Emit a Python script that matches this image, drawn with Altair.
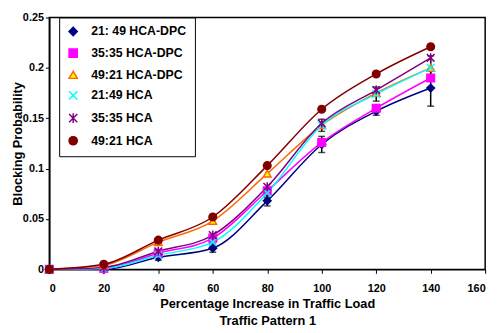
import altair as alt
import pandas as pd

x_vals = [0, 20, 40, 60, 80, 100, 120, 140]
series_names = ["21: 49 HCA-DPC", "35:35 HCA-DPC", "49:21 HCA-DPC",
                "21:49 HCA", "35:35 HCA", "49:21 HCA"]
s_21_49_dpc = [0, 0.000, 0.012, 0.021, 0.068, 0.124, 0.157, 0.180]
s_35_35_dpc = [0, 0.001, 0.016, 0.031, 0.078, 0.126, 0.160, 0.190]
s_49_21_dpc = [0, 0.004, 0.027, 0.048, 0.095, 0.143, 0.175, 0.200]
s_21_49_hca = [0, 0.001, 0.014, 0.027, 0.076, 0.143, 0.174, 0.200]
s_35_35_hca = [0, 0.002, 0.018, 0.034, 0.082, 0.145, 0.178, 0.210]
s_49_21_hca = [0, 0.005, 0.029, 0.052, 0.103, 0.159, 0.194, 0.221]
all_series = [s_21_49_dpc, s_35_35_dpc, s_49_21_dpc, s_21_49_hca, s_35_35_hca, s_49_21_hca]

stroke_colors = ["#000080", "#FF00FF", "#FF6600", "#00FFFF", "#800080", "#800000"]
fill_colors = ["#000080", "#FF00FF", "#FFFF00", "#00FFFF", "#800080", "#800000"]
shapes = ["diamond", "square", "triangle-up",
          "M-1,-1L1,1M-1,1L1,-1",
          "M-1,-1L1,1M-1,1L1,-1M0,-1.2L0,1.2",
          "circle"]

# error bars (half-widths) around two series
err_navy = [0, 0.001, 0.003, 0.004, 0.005, 0.008, 0.004, 0.018]
err_cyan = [0, 0.001, 0.003, 0.004, 0.005, 0.006, 0.007, 0.012]

y_title = "Blocking Probability"

rows = []
for name, vals in zip(series_names, all_series):
    for xv, yv in zip(x_vals, vals):
        rows.append({"x": xv, "y": yv, "series": name})
df = pd.DataFrame(rows)

err_rows = []
for base, err in [(s_21_49_dpc, err_navy), (s_21_49_hca, err_cyan)]:
    for xv, yv, e in zip(x_vals, base, err):
        if e > 0.002:
            err_rows.append({"x": xv, "lo": yv - e, "hi": yv + e})
edf = pd.DataFrame(err_rows)

xscale = alt.Scale(domain=[0, 160], nice=False)
yscale = alt.Scale(domain=[0, 0.25], nice=False)

x_title = ["Percentage Increase in Traffic Load", "Traffic Pattern 1"]
x_enc = alt.X("x:Q", scale=xscale, title=x_title,
              axis=alt.Axis(values=list(range(0, 161, 20)), format="d"))
y_enc = alt.Y("y:Q", scale=yscale, title=y_title,
              axis=alt.Axis(values=[0, 0.05, 0.1, 0.15, 0.2, 0.25], format="~g",
                            titleX=-32, titleY=128,
                            titleAngle=-90, titleAlign="center", titleBaseline="middle"))

sc_stroke = alt.Scale(domain=series_names, range=stroke_colors)
sc_fill = alt.Scale(domain=series_names, range=fill_colors)
sc_shape = alt.Scale(domain=series_names, range=shapes)

lines = alt.Chart(df).mark_line(interpolate="monotone", strokeWidth=1.5).encode(
    x=x_enc, y=y_enc,
    stroke=alt.Stroke("series:N", scale=sc_stroke, sort=series_names, title=None),
    detail="series:N",
)

errs = alt.Chart(edf).mark_errorbar(ticks=alt.TickConfig(size=7), color="black", thickness=1.5).encode(
    x=alt.X("x:Q", scale=xscale, title=x_title),
    y=alt.Y("lo:Q", scale=yscale, title=y_title),
    y2="hi:Q",
)

points = alt.Chart(df).mark_point(filled=False, size=60, strokeWidth=1.5, opacity=1).encode(
    x=alt.X("x:Q", scale=xscale, title=x_title),
    y=alt.Y("y:Q", scale=yscale, title=y_title),
    stroke=alt.Stroke("series:N", scale=sc_stroke, sort=series_names, title=None),
    fill=alt.Fill("series:N", scale=sc_fill, sort=series_names, title=None),
    shape=alt.Shape("series:N", scale=sc_shape, sort=series_names, title=None),
)

chart = alt.layer(lines, errs, points).properties(
    width=443, height=256,
    autosize=alt.AutoSizeParams(type="none"),
    padding={"left": 42, "top": 7, "right": 10, "bottom": 62},
).configure_view(
    stroke="black", strokeWidth=1.5
).configure_axis(
    domainColor="black", domainWidth=1.5, tickColor="black", tickSize=4,
    grid=False, labelFont="Liberation Sans", labelFontWeight="bold",
    labelFontSize=11, labelColor="black",
    titleFont="Liberation Sans", titleFontWeight="bold", titleFontSize=13,
    titleColor="black",
).configure_axisX(
    labelPadding=9, titlePadding=5, titleLineHeight=17
).configure_legend(
    orient="none", legendX=10, legendY=0,
    strokeColor="black", fillColor="white", padding=8,
    labelFont="Liberation Sans", labelFontWeight="bold", labelFontSize=12.5,
    labelColor="black", symbolSize=70, symbolStrokeWidth=1.5, rowPadding=7,
    labelOffset=12,
)

chart.save("out.html", embed_options={"renderer": "svg", "actions": False})
